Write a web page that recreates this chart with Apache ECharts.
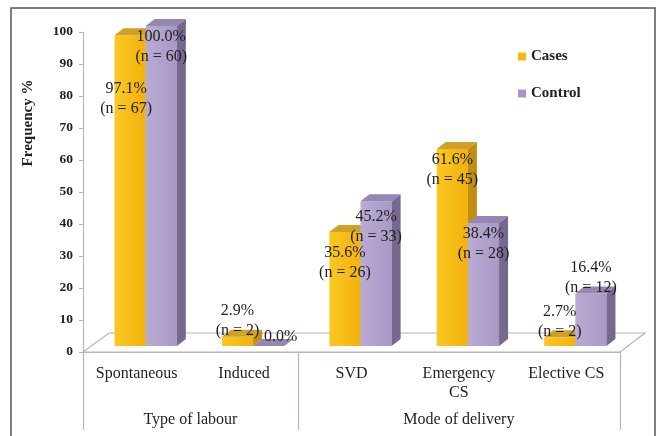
<!DOCTYPE html>
<html>

<head>
    <meta charset="utf-8" />
    <title>Frequency chart</title>
    <script src="https://cdn.jsdelivr.net/npm/echarts@6/dist/echarts.min.js"></script>
    <style>
        body { margin: 0; background: #fff; }
    </style>
</head>

<body>
    <div id="main" style="width: 657px;height:436px;"></div>
    <script type="text/javascript">
        // data
        var categories = ['Spontaneous', 'Induced', 'SVD', 'Emergency\nCS', 'Elective CS'];
        var groups = ['Type of labour', 'Mode of delivery'];
        var groupSpan = [2, 3];
        var casesPct = [97.1, 2.9, 35.6, 61.6, 2.7];
        var casesN = [67, 2, 26, 45, 2];
        var controlPct = [100.0, 0.0, 45.2, 38.4, 16.4];
        var controlN = [60, 0, 33, 28, 12];
        var yMin = 0, yMax = 100, yStep = 10;

        var SERIF = "'Liberation Serif', 'DejaVu Serif', serif";
        var faces = [
            { front: ['#fac823', '#f2b10c'], top: '#d0a126', side: '#c08f12' },
            { front: ['#b9acd3', '#a898c6'], top: '#9586b2', side: '#76688f' }
        ];
        var allPct = [casesPct, controlPct];

        // group boundaries / label centres on the second axis
        var groupTicks = [0], groupMids = [], acc = 0;
        groupSpan.forEach(function (s) {
            groupMids.push(acc + s / 2);
            acc += s;
            groupTicks.push(acc);
        });

        var FX = 8, FY = -6;   // bars sit a little back on the floor
        var DX = 9, DY = -7;   // bar depth

        function renderBar(params, api) {
            var si = params.seriesIndex;
            var cat = api.value(0), val = api.value(1), n = api.value(2);
            var base = api.coord([cat, 0]);
            var top = api.coord([cat, val]);
            var band = api.size([1, 0])[0];
            var w = band * 0.29;
            var x0 = base[0] + 1 - w + si * w + FX;
            var by = base[1] + FY, ty = top[1] + FY;
            var f = faces[si];
            var kids = [
                {
                    type: 'rect', shape: { x: x0, y: ty, width: w, height: by - ty },
                    style: { fill: new echarts.graphic.LinearGradient(0, 0, 1, 0, [{ offset: 0, color: f.front[0] }, { offset: 1, color: f.front[1] }]) }
                },
                {
                    type: 'polygon', shape: { points: [[x0 + w, ty], [x0 + w + DX, ty + DY], [x0 + w + DX, by + DY], [x0 + w, by]] },
                    style: { fill: f.side }
                },
                {
                    type: 'polygon', shape: { points: [[x0, ty], [x0 + DX, ty + DY], [x0 + w + DX, ty + DY], [x0 + w, ty]] },
                    style: { fill: f.top }
                }
            ];
            var txt = val.toFixed(1) + '%' + (n > 0 ? '\n(n = ' + n + ')' : '');
            var lx = x0 + w / 2, ly, va = 'top';
            if (n === 0) {
                lx = x0 + w * 0.4 + 15; ly = ty - 9; va = 'middle';
            } else if (val >= 30) {
                ly = ty + 1;
                var other = allPct[1 - si][cat];
                if (si === 0 && Math.abs(other - val) < 5) { ly += 43; lx -= 4; }
                if (si === 0 && other - val > 5) ly += 10;
                if (si === 1 && val - allPct[0][cat] > 5) ly += 4;
            } else {
                ly = ty + 4; va = 'bottom';
            }
            kids.push({
                type: 'text', z2: 100,
                style: {
                    text: txt, x: lx, y: ly, fill: '#1e1e1e', font: '16px ' + SERIF,
                    align: 'center', verticalAlign: va, lineHeight: 20
                }
            });
            return { type: 'group', children: kids };
        }

        function renderFloor(params, api) {
            var cs = params.coordSys;
            var l = cs.x, r = cs.x + cs.width, b = cs.y + cs.height;
            return {
                type: 'polygon',
                shape: { points: [[l, b], [l + 26, b - 19], [r + 25, b - 19], [r, b]] },
                style: { fill: '#fff', stroke: '#bdb4ae', lineWidth: 1.2 }
            };
        }

        function barData(pct, ns) {
            return pct.map(function (v, i) { return [i, v, ns[i]]; });
        }

        var myChart = echarts.init(document.getElementById('main'));
        var option = {
            backgroundColor: '#fff',
            animation: false,
            grid: { left: 83, right: 37, top: 32, bottom: 84 },
            legend: {
                data: ['Cases', 'Control'],
                orient: 'vertical', left: 513, top: 44, itemGap: 22,
                itemWidth: 8, itemHeight: 8, icon: 'rect',
                textStyle: { fontFamily: SERIF, fontSize: 15, fontWeight: 'bold', color: '#222' }
            },
            graphic: [
                { type: 'rect', shape: { x: 11, y: 8, width: 644, height: 440 }, style: { fill: null, stroke: '#555', lineWidth: 1.5 } },
                {
                    type: 'text', x: 28, y: 123, rotation: Math.PI / 2,
                    style: { text: 'Frequency %', font: 'bold 15px ' + SERIF, fill: '#222', align: 'center', verticalAlign: 'middle' }
                }
            ],
            xAxis: [
                {
                    type: 'category', data: categories,
                    axisLine: { show: true, lineStyle: { color: '#bdb4ae', width: 1.2 } },
                    axisTick: { show: false },
                    axisLabel: { fontFamily: SERIF, fontSize: 16, color: '#1e1e1e', margin: 12, lineHeight: 19 }
                },
                {
                    type: 'value', min: 0, max: categories.length, position: 'bottom',
                    axisLine: { show: false },
                    splitLine: { show: false },
                    axisTick: { show: true, length: 78, customValues: groupTicks, lineStyle: { color: '#bdb4ae', width: 1.2 } },
                    axisLabel: {
                        margin: 60, customValues: groupMids,
                        fontFamily: SERIF, fontSize: 16, color: '#1e1e1e',
                        formatter: function (v) { return groups[groupMids.indexOf(v)]; }
                    }
                }
            ],
            yAxis: {
                type: 'value', min: yMin, max: yMax, interval: yStep,
                axisLine: { show: true, lineStyle: { color: '#bdb4ae', width: 1.2 } },
                axisTick: { show: true, length: 4, lineStyle: { color: '#bdb4ae' } },
                splitLine: { show: false },
                axisLabel: { fontFamily: SERIF, fontSize: 13.5, fontWeight: 'bold', color: '#222', margin: 10 }
            },
            series: [
                {
                    name: 'Cases', type: 'custom', renderItem: renderBar, z: 3,
                    itemStyle: { color: '#f5bb14' },
                    encode: { x: 0, y: 1 },
                    data: barData(casesPct, casesN)
                },
                {
                    name: 'Control', type: 'custom', renderItem: renderBar, z: 3,
                    itemStyle: { color: '#a897c6' },
                    encode: { x: 0, y: 1 },
                    data: barData(controlPct, controlN)
                },
                {
                    name: 'floor', type: 'custom', renderItem: renderFloor, z: 1,
                    silent: true, data: [[0, 0]]
                }
            ]
        };
        myChart.setOption(option);
    </script>
</body>

</html>
